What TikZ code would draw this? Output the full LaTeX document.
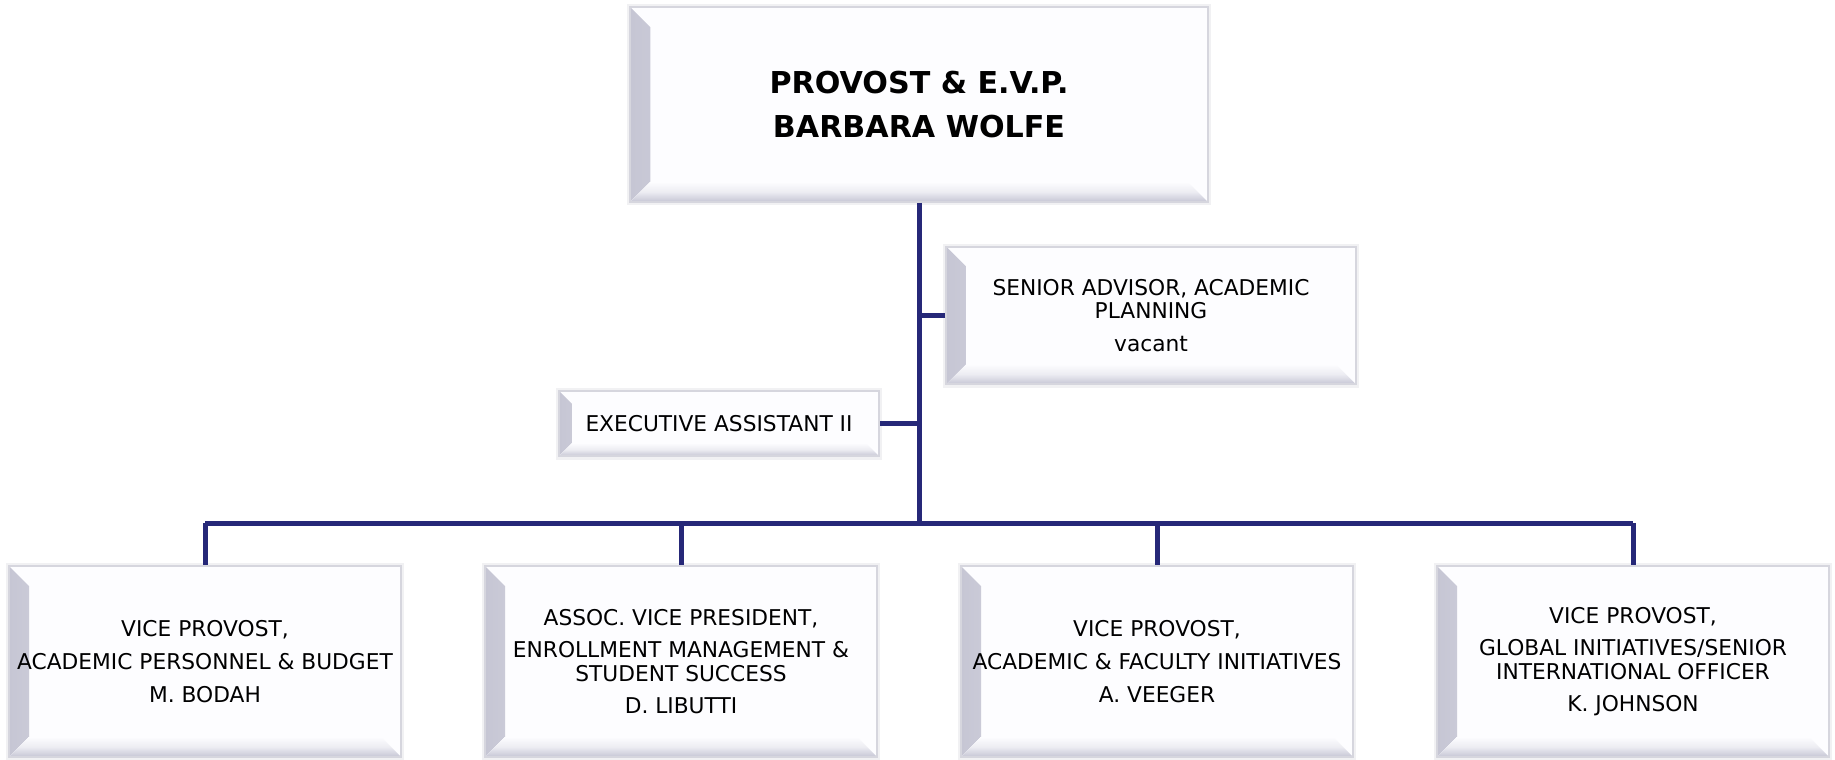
\documentclass[tikz,border=0pt]{standalone}
\usepackage{fontspec}
\setmainfont{DejaVu Sans}
\usepackage{tikz}
\definecolor{navyline}{RGB}{38,40,120}
\definecolor{boxedge}{RGB}{214,214,222}
\definecolor{bevgray}{RGB}{198,198,212}
\definecolor{boxfill}{RGB}{253,253,255}
\newcommand{\orgbevel}[1]{%
  \fill[left color=bevgray, right color=boxfill, middle color=bevgray!30!boxfill]
    (path picture bounding box.north west) -- ++(#1,-#1)
    -- ([shift={(#1,#1)}]path picture bounding box.south west)
    -- (path picture bounding box.south west) -- cycle;
  \fill[bottom color=bevgray, top color=boxfill, middle color=bevgray!30!boxfill]
    (path picture bounding box.south west) -- ++(#1,#1)
    -- ([shift={(-#1,#1)}]path picture bounding box.south east)
    -- (path picture bounding box.south east) -- cycle;}
\tikzset{
  orgbox/.style={draw=boxedge, line width=1.5pt, fill=boxfill, inner sep=0pt,
    align=center, font=\fontsize{16.3}{17.5}\selectfont,
    preaction={draw=boxedge!35, line width=5pt},
    path picture={\orgbevel{15pt}}},
  orgline/.style={draw=navyline, line width=3.75pt}
}

\begin{document}
\begin{tikzpicture}[x=0.75pt, y=-0.75pt]
            \useasboundingbox (0,0) rectangle (1835,760);
            \node[orgbox, minimum width=433pt, minimum height=146pt,
              font=\fontsize{22.6}{33}\selectfont\bfseries] (prov) at (919,104.5)
              {PROVOST \& E.V.P.\\BARBARA WOLFE};
            \node[orgbox, minimum width=307pt, minimum height=103pt] (senadv) at (1151,315.5)
              {SENIOR ADVISOR, ACADEMIC\\PLANNING\\[7pt]vacant};
            \node[orgbox, minimum width=240pt, minimum height=49pt,
              path picture={\orgbevel{10pt}}] (execasst) at (719,423.5)
              {EXECUTIVE ASSISTANT II};
            % vice provosts
            \node[orgbox, minimum width=294pt, minimum height=143pt] (vpbudget) at (205,661.5)
              {VICE PROVOST,\\[7pt]ACADEMIC PERSONNEL \& BUDGET\\[7pt]M. BODAH};
            \node[orgbox, minimum width=294pt, minimum height=143pt] (avpenroll) at (681,661.5)
              {ASSOC. VICE PRESIDENT,\\[7pt]ENROLLMENT MANAGEMENT \&\\STUDENT SUCCESS\\[7pt]D. LIBUTTI};
            \node[orgbox, minimum width=294pt, minimum height=143pt] (vpfaculty) at (1157,661.5)
              {VICE PROVOST,\\[7pt]ACADEMIC \& FACULTY INITIATIVES\\[7pt]A. VEEGER};
            \node[orgbox, minimum width=294pt, minimum height=143pt] (vpglobal) at (1633,661.5)
              {VICE PROVOST,\\[7pt]GLOBAL INITIATIVES/SENIOR\\INTERNATIONAL OFFICER\\[7pt]K. JOHNSON};
            \coordinate (hub) at (919,523);
            \draw[orgline] (prov.south) -- (hub);
            \draw[orgline] (senadv.west) -- (senadv.west -| hub);
            \draw[orgline] (execasst.east) -- (execasst.east -| hub);
            \draw[orgline] (vpbudget.north |- hub) -- (vpglobal.north |- hub);
            \foreach \vp in {vpbudget, avpenroll, vpfaculty, vpglobal}
              \draw[orgline] (\vp.north |- hub) -- (\vp.north);
\end{tikzpicture}
\end{document}
